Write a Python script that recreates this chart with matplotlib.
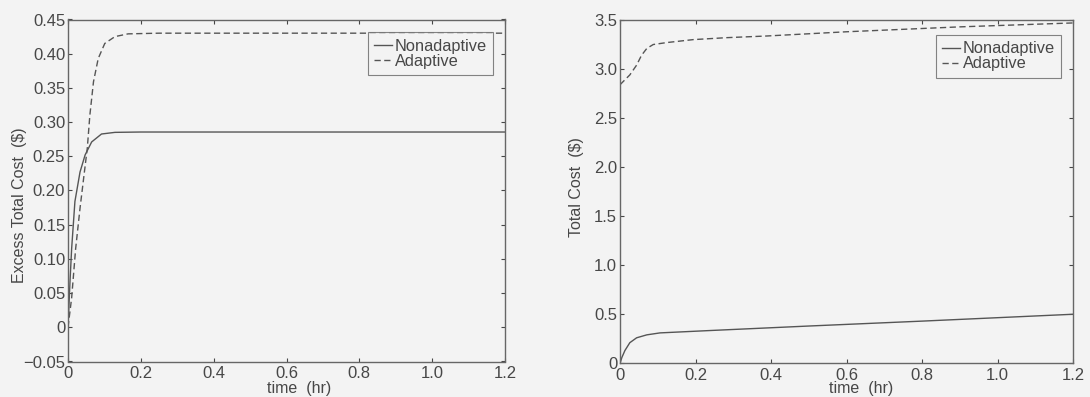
import matplotlib
matplotlib.use('Agg')
import matplotlib.pyplot as plt
from matplotlib.ticker import FixedLocator, FuncFormatter

# ---------------------------------------------------------------------------
# Data
# ---------------------------------------------------------------------------
t_left_na = [0.0, 0.0055, 0.010, 0.019, 0.033, 0.047, 0.065, 0.092, 0.129, 0.2, 0.6, 1.2]
excess_nonadaptive = [0.0, 0.067, 0.115, 0.184, 0.227, 0.252, 0.271, 0.2826, 0.285,
                      0.2855, 0.2855, 0.2855]

t_left_ad = [0.0, 0.010, 0.021, 0.033, 0.045, 0.053, 0.060, 0.070, 0.083, 0.101, 0.129,
             0.165, 0.25, 0.6, 1.2]
excess_adaptive = [0.0, 0.043, 0.115, 0.174, 0.227, 0.262, 0.31, 0.359, 0.393, 0.415,
                   0.425, 0.429, 0.430, 0.430, 0.430]

t_right_na = [0.0, 0.005, 0.013, 0.026, 0.044, 0.071, 0.106, 0.238, 0.5, 0.8, 1.2]
total_nonadaptive = [0.0, 0.06, 0.13, 0.21, 0.26, 0.29, 0.31, 0.334, 0.38, 0.43, 0.50]

t_right_ad = [0.0, 0.026, 0.044, 0.057, 0.071, 0.088, 0.124, 0.194, 0.283, 0.389, 0.60,
              0.9, 1.2]
total_adaptive = [2.84, 2.94, 3.04, 3.14, 3.21, 3.25, 3.27, 3.30, 3.32, 3.337, 3.38,
                  3.43, 3.47]

x_ticks = [0, 0.2, 0.4, 0.6, 0.8, 1.0, 1.2]
left_yticks = [-0.05, 0, 0.05, 0.10, 0.15, 0.20, 0.25, 0.30, 0.35, 0.40, 0.45]
right_yticks = [0, 0.5, 1.0, 1.5, 2.0, 2.5, 3.0, 3.5]

# ---------------------------------------------------------------------------
# Style
# ---------------------------------------------------------------------------
BG = '#f3f3f3'
INK = '#474747'
LINE = '#555555'
DASH = (4.5, 2.5)
plt.rcParams['font.family'] = ['Liberation Sans', 'DejaVu Sans']
plt.rcParams['text.color'] = INK
plt.rcParams['axes.labelcolor'] = INK


def fmt(dec):
    def f(v, pos):
        if abs(v) < 1e-12:
            return '0'
        return f'{v:.{dec}f}'.replace('-', '\u2212')
    return f


def style_axes(ax, yticks, ydec, ylim, legend_anchor):
    ax.set_facecolor(BG)
    ax.set_xlim(0, 1.2)
    ax.set_ylim(*ylim)
    ax.xaxis.set_major_locator(FixedLocator(x_ticks))
    ax.yaxis.set_major_locator(FixedLocator(yticks))
    ax.xaxis.set_major_formatter(FuncFormatter(fmt(1)))
    ax.yaxis.set_major_formatter(FuncFormatter(fmt(ydec)))
    ax.tick_params(direction='in', top=True, right=True, length=3.2, width=0.8,
                   labelsize=12, colors=INK)
    ax.tick_params(axis='x', pad=3.5)
    ax.tick_params(axis='y', pad=2)
    for sp in ax.spines.values():
        sp.set_color('#666666')
        sp.set_linewidth(1.0)
    leg = ax.legend(loc='upper right', bbox_to_anchor=legend_anchor, fontsize=11.8,
                    frameon=True, fancybox=False, handlelength=1.1, handletextpad=0.16,
                    borderpad=0.38, labelspacing=0.0, borderaxespad=0)
    leg.get_frame().set_edgecolor('#666666')
    leg.get_frame().set_facecolor(BG)
    leg.get_frame().set_linewidth(0.8)


W, H = 1090, 397
fig = plt.figure(figsize=(W / 100, H / 100), dpi=100, facecolor=BG)
ax1 = fig.add_axes([68 / W, 1 - 361.5 / H, 437 / W, 342 / H])
ax2 = fig.add_axes([620 / W, 1 - 363.3 / H, 453 / W, 343.3 / H])

# Left: excess total cost
ax1.plot(t_left_na, excess_nonadaptive, '-', color=LINE, lw=1.0, label='Nonadaptive')
ax1.plot(t_left_ad, excess_adaptive, '--', color=LINE, lw=1.0, dashes=DASH, label='Adaptive')
style_axes(ax1, left_yticks, 2, (-0.05, 0.45), (0.973, 0.962))
ax1.set_ylabel('Excess Total Cost  (\\$)', fontsize=11.5)
ax1.yaxis.set_label_coords(-0.094, 0.456)
ax1.set_xlabel('time  (hr)', fontsize=11.5)
ax1.xaxis.set_label_coords(0.53, -0.057)

# Right: total cost
ax2.plot(t_right_na, total_nonadaptive, '-', color=LINE, lw=1.0, label='Nonadaptive')
ax2.plot(t_right_ad, total_adaptive, '--', color=LINE, lw=1.0, dashes=DASH, label='Adaptive')
style_axes(ax2, right_yticks, 1, (0, 3.5), (0.9735, 0.956))
ax2.set_ylabel('Total Cost  (\\$)', fontsize=11.5)
ax2.yaxis.set_label_coords(-0.079, 0.512)
ax2.set_xlabel('time  (hr)', fontsize=11.5)
ax2.xaxis.set_label_coords(0.533, -0.052)

fig.savefig('out.png', dpi=100, facecolor=BG)
